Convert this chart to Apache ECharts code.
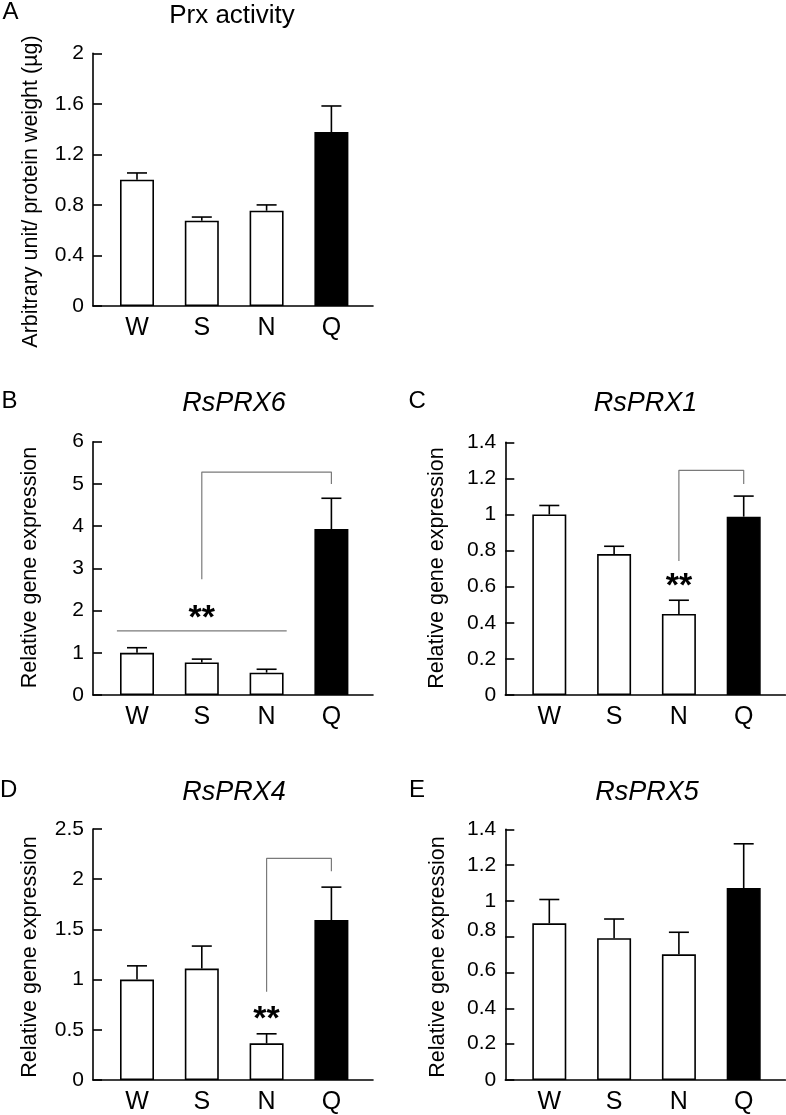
<!DOCTYPE html>
<html><head><meta charset="utf-8">
<script src="https://cdn.jsdelivr.net/npm/echarts@6/dist/echarts.min.js"></script>
<style>html,body{margin:0;padding:0;background:#fff}#c{width:786px;height:1115px}</style>
</head><body><div id="c"></div>
<script>
// ---- data ----
const categories = ['W', 'S', 'N', 'Q'];

const A_mean = [1.0, 0.675, 0.754, 1.377];
const A_sd   = [0.053, 0.029, 0.046, 0.206];

const B_mean = [1.0, 0.77, 0.53, 3.93];
const B_sd   = [0.12, 0.08, 0.08, 0.73];

const C_mean = [1.0, 0.781, 0.449, 0.988];
const C_sd   = [0.05, 0.043, 0.076, 0.114];

const D_mean = [1.0, 1.11, 0.365, 1.593];
const D_sd   = [0.137, 0.224, 0.095, 0.328];

const E_mean = [0.875, 0.792, 0.702, 1.072];
const E_sd   = [0.133, 0.107, 0.123, 0.247];

// significance brackets [x, y] in data units
const B_bracket = [[1, 2.74], [1, 5.28], [3, 5.28], [3, 5.0]];
const B_line    = [[-0.31, 1.52], [2.31, 1.52]];
const B_star    = [[1, 1.97]];
const C_bracket = [[2, 0.742], [2, 1.245], [3, 1.245], [3, 1.169]];
const C_star    = [[2, 0.64]];
const D_bracket = [[2, 0.88], [2, 2.207], [3, 2.207], [3, 2.08]];
const D_star    = [[2, 0.667]];

// y axis tick settings
const A_yMax = 2,   A_yInt = 0.4;
const B_yMax = 6,   B_yInt = 1;
const C_yMax = 1.4, C_yInt = 0.2;
const D_yMax = 2.5, D_yInt = 0.5;
const E_yMax = 1.4;
const E_tickValues  = [0, 0.2, 0.4, 0.6, 0.8, 1, 1.2, 1.4];
const E_labelValues = [0, 0.208, 0.402, 0.613, 0.834, 1, 1.2, 1.4];
const E_labelTexts  = ['0', '0.2', '0.4', '0.6', '0.8', '1', '1.2', '1.4'];

const titles = ['Prx activity', 'RsPRX6', 'RsPRX1', 'RsPRX4', 'RsPRX5'];
const letters = ['A', 'B', 'C', 'D', 'E'];
const yTitleA = 'Arbitrary unit/ protein weight (\u00b5g)';
const yTitleGene = 'Relative gene expression';

// ---- layout ----
const FONT = "'Liberation Sans', Arial, Helvetica, sans-serif";
const grids = [
  {left: 93,    top: 53.3,  width: 280, height: 252.7},
  {left: 93,    top: 441.7, width: 280, height: 253.3},
  {left: 505.3, top: 442.3, width: 280, height: 252.7},
  {left: 93,    top: 829,   width: 280, height: 253.7},
  {left: 505.3, top: 829.3, width: 280, height: 253.4}
];
const X_MIN = -0.679, X_MAX = 3.642;

const panels = [
  {mean: A_mean, sd: A_sd, yMax: A_yMax, yInt: A_yInt},
  {mean: B_mean, sd: B_sd, yMax: B_yMax, yInt: B_yInt, brackets: [B_bracket, B_line], stars: B_star},
  {mean: C_mean, sd: C_sd, yMax: C_yMax, yInt: C_yInt, brackets: [C_bracket], stars: C_star},
  {mean: D_mean, sd: D_sd, yMax: D_yMax, yInt: D_yInt, brackets: [D_bracket], stars: D_star},
  {mean: E_mean, sd: E_sd, yMax: E_yMax, yInt: 0.2, custom: true}
];

const xAxes = [], yAxes = [], series = [];
panels.forEach((p, gi) => {
  xAxes.push({
    type: 'value', gridIndex: gi, min: X_MIN, max: X_MAX,
    axisLine: {show: true, onZero: false, lineStyle: {color: '#000', width: 1.6}},
    axisTick: {show: false},
    splitLine: {show: false},
    axisLabel: {
      customValues: [0, 1, 2, 3],
      formatter: v => categories[Math.round(v)],
      color: '#000', fontSize: 25, fontFamily: FONT, margin: 10
    }
  });
  const y = {
    type: 'value', gridIndex: gi, min: 0, max: p.yMax, interval: p.yInt,
    axisLine: {show: true, onZero: false, lineStyle: {color: '#000', width: 1.6}},
    axisTick: {show: true, inside: true, length: 9, lineStyle: {color: '#000', width: 1.6}},
    splitLine: {show: false},
    axisLabel: {color: '#000', fontSize: 21, fontFamily: FONT, margin: 9}
  };
  if (p.custom) {
    y.axisTick.customValues = E_tickValues;
    y.axisLabel.customValues = E_labelValues;
    y.axisLabel.formatter = v => {
      const k = E_labelValues.findIndex(t => Math.abs(t - v) < 1e-6);
      return k >= 0 ? E_labelTexts[k] : '';
    };
  }
  yAxes.push(y);

  series.push({
    type: 'bar', xAxisIndex: gi, yAxisIndex: gi, barWidth: 34,
    data: p.mean.map((m, i) => ({value: [i, m], itemStyle: {color: i === 3 ? '#000' : '#fff'}})),
    itemStyle: {borderColor: '#000', borderWidth: 1.6},
    z: 2
  });
  series.push({
    type: 'custom', xAxisIndex: gi, yAxisIndex: gi, z: 3,
    data: p.mean.map((m, i) => [i, m, m + p.sd[i]]),
    renderItem: (params, api) => {
      const a = api.coord([api.value(0), api.value(1)]);
      const b = api.coord([api.value(0), api.value(2)]);
      const hw = 10;
      const st = {stroke: '#000', lineWidth: 1.6};
      return {type: 'group', children: [
        {type: 'line', shape: {x1: a[0], y1: a[1], x2: b[0], y2: b[1]}, style: st},
        {type: 'line', shape: {x1: b[0] - hw, y1: b[1], x2: b[0] + hw, y2: b[1]}, style: st}
      ]};
    }
  });
  (p.brackets || []).forEach(br => {
    series.push({
      type: 'line', xAxisIndex: gi, yAxisIndex: gi, data: br, symbol: 'none',
      lineStyle: {color: '#7a7a7a', width: 1.2}, silent: true, z: 4
    });
  });
  if (p.stars) {
    series.push({
      type: 'custom', xAxisIndex: gi, yAxisIndex: gi, z: 5, data: p.stars,
      renderItem: (params, api) => {
        const c = api.coord([api.value(0), api.value(1)]);
        return {type: 'text', x: c[0], y: c[1] + 7, style: {
          text: '**', fontSize: 34, fontWeight: 'bold', fontFamily: FONT, fill: '#000',
          align: 'center', verticalAlign: 'middle', textAlign: 'center', textVerticalAlign: 'middle'
        }};
      }
    });
  }
});

function txt(text, x, y, size, opts) {
  opts = opts || {};
  return {
    type: 'text', x: x, y: y, rotation: opts.rot || 0, silent: true,
    style: {
      text: text, fontSize: size, fontFamily: FONT, fontStyle: opts.italic ? 'italic' : 'normal',
      fill: '#000', align: opts.align || 'center', verticalAlign: 'middle',
      textAlign: opts.align || 'center', textVerticalAlign: 'middle'
    }
  };
}

const graphics = [
  txt(letters[0], 2.5, 12, 24, {align: 'left'}),
  txt(titles[0], 232, 16.2, 26),
  txt(letters[1], 1.5, 401.7, 24, {align: 'left'}),
  txt(titles[1], 234, 403, 27, {italic: true}),
  txt(letters[2], 408.5, 401.7, 24, {align: 'left'}),
  txt(titles[2], 645.5, 403, 27, {italic: true}),
  txt(letters[3], 0, 790, 24, {align: 'left'}),
  txt(titles[3], 234, 792, 27, {italic: true}),
  txt(letters[4], 409, 790, 24, {align: 'left'}),
  txt(titles[4], 647, 792, 27, {italic: true}),
  txt(yTitleA, 31, 191.5, 21.5, {rot: Math.PI / 2}),
  txt(yTitleGene, 30.5, 567.5, 21.5, {rot: Math.PI / 2}),
  txt(yTitleGene, 437, 568, 21.5, {rot: Math.PI / 2}),
  txt(yTitleGene, 30, 957, 21.5, {rot: Math.PI / 2}),
  txt(yTitleGene, 437.7, 957, 21.5, {rot: Math.PI / 2})
];

const chart = echarts.init(document.getElementById('c'), null, {renderer: 'canvas'});
chart.setOption({
  animation: false,
  backgroundColor: '#fff',
  grid: grids,
  xAxis: xAxes,
  yAxis: yAxes,
  series: series,
  graphic: graphics
});
</script>
</body></html>
